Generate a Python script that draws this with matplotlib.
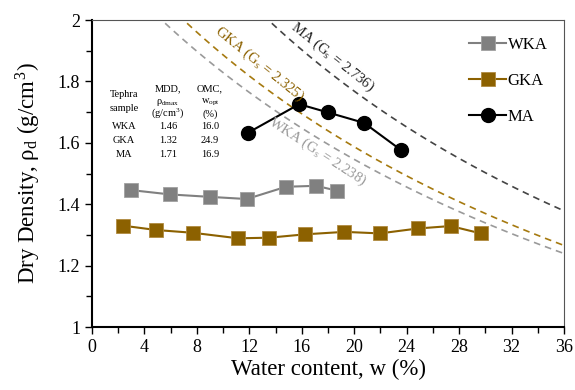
import matplotlib.pyplot as plt
import numpy as np

plt.rcParams['font.family'] = ['Liberation Serif', 'DejaVu Serif']
plt.rcParams['mathtext.fontset'] = 'stix'

# Compaction curves: water content (%) and dry density (g/cm3)
wka_w = [3.0, 5.95, 9.0, 11.8, 14.8, 17.1, 18.7]
wka_rho = [1.446, 1.432, 1.424, 1.417, 1.457, 1.460, 1.444]

gka_w = [2.4, 4.9, 7.7, 11.15, 13.5, 16.25, 19.25, 21.95, 24.85, 27.35, 29.65]
gka_rho = [1.330, 1.316, 1.307, 1.289, 1.291, 1.302, 1.310, 1.305, 1.321, 1.329, 1.305]

ma_w = [11.9, 15.8, 18.0, 20.75, 23.55]
ma_rho = [1.633, 1.726, 1.699, 1.665, 1.577]

# Specific gravity for the zero-air-voids lines
gs_wka = 2.238
gs_gka = 2.325
gs_ma = 2.736

# Summary table
samples = ["WKA", "GKA", "MA"]
mdd = ["1.46", "1.32", "1.71"]
omc = ["16.0", "24.9", "16.9"]

c_wka = "#808080"
c_gka = "#8c6100"
c_ma = "black"

fig = plt.figure(figsize=(5.75, 3.9), dpi=100)
ax = fig.add_axes([0.16, 0.1615, 0.821, 0.787])

# zero air voids: rho_d = Gs / (1 + w*Gs)
w = np.linspace(0, 36, 400)
for gs, col in [(gs_ma, "#444444"), (gs_gka, "#a67a10"), (gs_wka, "#9a9a9a")]:
    ax.plot(w, gs / (1 + w / 100 * gs), ls=(0, (4, 3)), color=col, lw=1.2, zorder=1)

ax.plot(wka_w, wka_rho, "-s", color=c_wka, ms=10, lw=1.5, mec="#a0a0a0", mew=0.6, label="WKA")
ax.plot(gka_w, gka_rho, "-s", color=c_gka, ms=10, lw=1.5, mec="#b08a40", mew=0.6, label="GKA")
ax.plot(ma_w, ma_rho, "-o", color=c_ma, ms=10, lw=1.5, label="MA")

# labels along the zero air voids curves
ax.text(18.3, 1.881, r"MA (G$_\mathregular{s}$ = 2.736)", rotation=-38.5, color="#222222",
        fontsize=10.5, ha="center", va="center")
ax.text(12.8, 1.858, r"GKA (G$_\mathregular{s}$ = 2.325)", rotation=-39, color=c_gka,
        fontsize=10.5, ha="center", va="center")
ax.text(17.2, 1.572, r"WKA (G$_\mathregular{s}$ = 2.238)", rotation=-33, color="#9a9a9a",
        fontsize=10.5, ha="center", va="center")

# summary table
fs = 7.5
ax.text(2.45, 1.757, "Tephra", fontsize=fs, ha="center", va="center")
ax.text(2.45, 1.712, "sample", fontsize=fs, ha="center", va="center")
ax.text(5.8, 1.775, "MDD,", fontsize=fs, ha="center", va="center")
ax.text(5.8, 1.731, r"ρ$_{\mathregular{dmax}}$", fontsize=fs, ha="center", va="center")
ax.text(5.8, 1.694, r"(g/cm$^\mathregular{3}$)", fontsize=fs, ha="center", va="center")
ax.text(9.0, 1.775, "OMC,", fontsize=fs, ha="center", va="center")
ax.text(9.0, 1.731, r"w$_{\mathregular{opt}}$", fontsize=fs, ha="center", va="center")
ax.text(9.0, 1.694, "(%)", fontsize=fs, ha="center", va="center")
for i, (s, m, o) in enumerate(zip(samples, mdd, omc)):
    y = 1.652 - i * 0.0455
    ax.text(2.45, y, s, fontsize=fs, ha="center", va="center")
    ax.text(5.8, y, m, fontsize=fs, ha="center", va="center")
    ax.text(9.0, y, o, fontsize=fs, ha="center", va="center")

ax.set_xlim(0, 36)
ax.set_ylim(1, 2)
ax.set_xticks(np.arange(0, 37, 4))
ax.set_xticks(np.arange(2, 36, 4), minor=True)
ax.set_yticks([1, 1.2, 1.4, 1.6, 1.8, 2])
ax.set_yticklabels(["1", "1.2", "1.4", "1.6", "1.8", "2"])
ax.set_yticks(np.arange(1.1, 2.0, 0.2), minor=True)
ax.tick_params(which="both", direction="out", labelsize=13, width=1)
ax.tick_params(which="major", length=5)
ax.tick_params(which="minor", length=4)
for sp in ["left", "bottom"]:
    ax.spines[sp].set_linewidth(1.5)
for sp in ["top", "right"]:
    ax.spines[sp].set_color("#555555")

ax.set_xlabel("Water content, w (%)", fontsize=16.5, labelpad=2)
ax.set_ylabel(r"Dry Density, ρ$_\mathregular{d}$ (g/cm$^\mathregular{3}$)", fontsize=16.5, labelpad=11)

ax.legend(loc="upper right", frameon=False, fontsize=12, handlelength=2.2,
          labelspacing=1.2, handletextpad=0.1, borderaxespad=0.6)

fig.savefig("out.png", dpi=100)
